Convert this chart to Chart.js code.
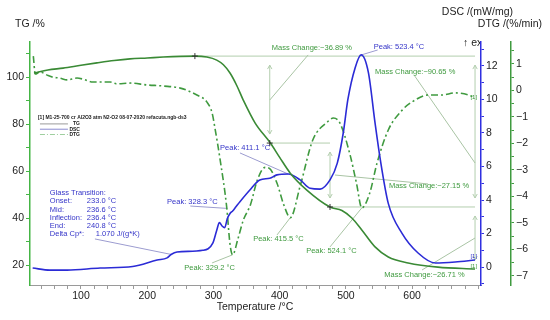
<!DOCTYPE html>
<html>
<head>
<meta charset="utf-8">
<script src="https://cdn.jsdelivr.net/npm/chart.js@4.4.1/dist/chart.umd.min.js"></script>
<style>
  html, body { margin: 0; padding: 0; background: #fff; }
</style>
</head>
<body>
<canvas id="thermoChart" width="550" height="320"></canvas>
<script>
// TG curve, mass in %
const tgTemp = [29, 50, 73, 100, 124, 150, 174, 200, 224, 250, 272, 290, 305, 315, 325, 335, 345, 363, 386, 400, 416, 441, 476, 494, 509, 524, 544, 564, 594, 639, 695];
const tgValues = [101.7, 103.0, 103.8, 105.0, 106.0, 107.0, 107.7, 108.1, 108.5, 108.8, 108.9, 108.5, 107.2, 105.2, 101.7, 96.5, 90.2, 80.4, 71.9, 65.8, 59.1, 51.9, 44.7, 43.2, 40.0, 34.9, 27.7, 23.4, 20.9, 19.1, 18.3];

// DSC curve, mW/mg
const dscTemp = [27, 53, 79, 129, 178, 215, 230, 236, 245, 284, 299, 305, 309, 313, 317, 321, 325, 329, 334, 340, 355, 370, 385, 396, 413, 431, 446, 461, 476, 487, 496, 503, 514, 523, 534, 544, 552, 564, 585, 609, 635, 665, 695];
const dscValues = [-0.06, -0.18, -0.18, -0.06, 0.03, 0.42, 0.55, 0.75, 0.9, 1.0, 1.43, 2.2, 2.65, 2.45, 2.35, 2.9, 3.2, 3.35, 3.6, 3.9, 4.6, 5.2, 5.3, 5.5, 5.55, 5.2, 4.7, 4.65, 5.2, 6.2, 8.0, 10.0, 11.9, 12.66, 11.6, 8.6, 6.4, 3.8, 2.0, 0.84, 0.24, 0.3, 0.42];

// DTG curve, %/min
const dtgTemp = [28, 31, 38, 49, 58, 68, 79, 94, 103, 118, 144, 154, 174, 200, 224, 250, 275, 290, 298, 302, 310, 320, 325, 329, 337, 345, 356, 366, 378, 385, 396, 406, 416, 431, 450, 472, 481, 491, 506, 516, 524, 536, 547, 564, 585, 600, 624, 645, 665, 685, 695];
const dtgValues = [1.3, 0.62, 0.7, 0.58, 0.5, 0.47, 0.4, 0.47, 0.43, 0.32, 0.32, 0.25, 0.28, 0.21, 0.17, 0.09, -0.17, -0.43, -0.85, -1.38, -2.6, -4.4, -5.8, -6.2, -5.6, -4.9, -4.3, -3.4, -2.9, -2.95, -3.5, -4.3, -4.8, -3.6, -1.87, -1.19, -1.04, -1.23, -2.4, -3.5, -4.43, -3.87, -2.74, -1.49, -0.74, -0.43, -0.17, -0.17, -0.09, -0.17, -0.28];

// labelled ticks
const tempTicks = [100, 200, 300, 400, 500, 600];
const tgTicks = [20, 40, 60, 80, 100];
const dscTicks = [0, 2, 4, 6, 8, 10, 12];
const dtgTicks = [1, 0, -1, -2, -3, -4, -5, -6, -7];

// TG step levels used by the mass-change brackets
const massLevels = [108.9, 71.9, 44.7, 18.3];
const glassRows = [['Glass Transition:', ''], ['Onset:', '233.0 °C'], ['Mid:', '236.6 °C'], ['Inflection:', '236.4 °C'], ['End:', '240.8 °C'], ['Delta Cp*:', '1.070 J/(g*K)']];

const GREEN = '#3a8a35';
const DTG_GREEN = '#3f9a3f';
const BLUE = '#2b2bd6';
const NOTE_GREEN = '#3f9a3f';
const NOTE_BLUE = '#3434c8';
const FONT = '"Liberation Sans", Arial, sans-serif';

// text notes, positioned in temperature / TG units
const notes = [
  { text: 'Mass Change:\u221236.89 %', color: NOTE_GREEN, t: 388, v: 112.3 },
  { text: 'Peak: 523.4 °C', color: NOTE_BLUE, t: 542, v: 112.6 },
  { text: 'Mass Change:\u221290.65 %', color: NOTE_GREEN, t: 544, v: 102.1 },
  { text: 'Peak: 411.1 °C', color: NOTE_BLUE, t: 310, v: 69.8 },
  { text: 'Mass Change:\u221227.15 %', color: NOTE_GREEN, t: 565, v: 53.6 },
  { text: 'Peak: 328.3 °C', color: NOTE_BLUE, t: 230, v: 46.8 },
  { text: 'Peak: 415.5 °C', color: NOTE_GREEN, t: 360, v: 31.1 },
  { text: 'Peak: 524.1 °C', color: NOTE_GREEN, t: 440, v: 26.0 },
  { text: 'Peak: 329.2 °C', color: NOTE_GREEN, t: 256, v: 18.7 },
  { text: 'Mass Change:\u221226.71 %', color: NOTE_GREEN, t: 558, v: 15.7 }
];

// leader lines: [t1, v1, axis1, t2, v2, axis2, colour]
const leaders = [
  [523.4, 12.66, 'yDsc', 548, 111.5, 'yTg', '#9c9cd0'],
  [443, 109.4, 'yTg', 385, 90.2, 'yTg', '#a9c4a4'],
  [604, 100.4, 'yTg', 695, 63.4, 'yTg', '#a9c4a4'],
  [340, 67.7, 'yTg', 413, 5.55, 'yDsc', '#9c9cd0'],
  [483.5, 58.3, 'yTg', 624, 54.5, 'yTg', '#a9c4a4'],
  [265, 45.1, 'yTg', 321, 3.5, 'yDsc', '#9c9cd0'],
  [121, 31.1, 'yTg', 236.6, 0.75, 'yDsc', '#9c9cd0'],
  [396, 32.8, 'yTg', 416, -4.8, 'yDtg', '#a9c4a4'],
  [476, 27.7, 'yTg', 524, -4.43, 'yDtg', '#a9c4a4'],
  [298, 20.9, 'yTg', 329, -6.2, 'yDtg', '#a9c4a4'],
  [615, 17.9, 'yTg', 695, 31.5, 'yTg', '#a9c4a4']
];

function toPoints(xs, ys) {
  return xs.map((t, i) => ({ x: t, y: ys[i] }));
}

function keepEvery(step) {
  return scale => {
    scale.ticks = scale.ticks.filter(t => Math.abs(t.value / step - Math.round(t.value / step)) < 1e-6);
  };
}

function arrow(ctx, x, y, dir) {
  // dir -1 points up, 1 points down
  ctx.beginPath();
  ctx.moveTo(x - 2.2, y - dir * 4);
  ctx.lineTo(x, y);
  ctx.lineTo(x + 2.2, y - dir * 4);
  ctx.stroke();
}

const notesPlugin = {
  id: 'thermoNotes',
  beforeDatasetsDraw(chart) {
    const { ctx } = chart;
    const sx = chart.scales.x;
    const tg = chart.scales.yTg;
    const X = t => sx.getPixelForValue(t);
    const Y = v => tg.getPixelForValue(v);
    const [l1, l2, l3, l4] = massLevels.map(Y);

    ctx.save();
    ctx.strokeStyle = '#b3ceae';
    ctx.lineWidth = 1;
    // level lines
    ctx.beginPath();
    ctx.moveTo(X(272), l1); ctx.lineTo(X(695), l1);
    ctx.moveTo(X(385), l2); ctx.lineTo(X(476), l2);
    ctx.moveTo(X(476), l3); ctx.lineTo(X(695), l3);
    ctx.stroke();

    // brackets
    const bracket = (x, ya, yb) => {
      ctx.beginPath();
      ctx.moveTo(x, ya + 9); ctx.lineTo(x, yb - 9);
      ctx.stroke();
      arrow(ctx, x, ya + 9, -1);
      arrow(ctx, x, yb - 9, 1);
    };
    bracket(X(385), l1, l2);
    bracket(X(476), l2, l3);
    bracket(X(695), l1, l3);
    bracket(X(695), l3, l4);

    // leaders
    leaders.forEach(([t1, v1, a1, t2, v2, a2, c]) => {
      ctx.strokeStyle = c;
      ctx.beginPath();
      ctx.moveTo(X(t1), chart.scales[a1].getPixelForValue(v1));
      ctx.lineTo(X(t2), chart.scales[a2].getPixelForValue(v2));
      ctx.stroke();
    });
    ctx.restore();
  },
  afterDatasetsDraw(chart) {
    const { ctx } = chart;
    const sx = chart.scales.x;
    const tg = chart.scales.yTg;
    const X = t => sx.getPixelForValue(t);
    const Y = v => tg.getPixelForValue(v);

    ctx.save();
    // step markers
    ctx.strokeStyle = '#333';
    ctx.lineWidth = 1;
    [[272, massLevels[0]], [385, massLevels[1]], [476, massLevels[2]]].forEach(([t, v]) => {
      const x = X(t), y = Y(v);
      ctx.beginPath();
      ctx.moveTo(x - 3, y); ctx.lineTo(x + 3, y);
      ctx.moveTo(x, y - 3); ctx.lineTo(x, y + 3);
      ctx.stroke();
    });

    ctx.textBaseline = 'middle';
    ctx.textAlign = 'left';
    ctx.font = '7.5px ' + FONT;
    notes.forEach(n => {
      ctx.fillStyle = n.color;
      ctx.fillText(n.text, X(n.t), Y(n.v));
    });

    // glass transition block
    const gx = X(53), gy = Y(50.6);
    ctx.fillStyle = NOTE_BLUE;
    glassRows.forEach(([label, value], i) => {
      ctx.fillText(label, gx, gy + i * 8.2);
      if (value) ctx.fillText(value, gx + (i === 5 ? 46 : 37), gy + i * 8.2);
    });

    // curve tags at the right end
    ctx.font = '6px ' + FONT;
    ctx.fillStyle = NOTE_BLUE;
    ctx.fillText('[1]', X(688), chart.scales.yDsc.getPixelForValue(0.62));
    ctx.fillStyle = NOTE_GREEN;
    ctx.fillText('[1]', X(688), Y(19.3));
    ctx.fillText('[1]', X(688), chart.scales.yDtg.getPixelForValue(-0.25));

    // file legend
    const lx = X(35), ly = Y(82.6);
    ctx.font = 'bold 5px ' + FONT;
    ctx.fillStyle = '#222';
    ctx.fillText('[1] M1-25-700 cr Al2O3 atm N2-O2 08-07-2020 refacuta.ngb-ds3', lx, ly);
    const keys = [['TG', '#9a9a9a', []], ['DSC', '#8c8cd0', []], ['DTG', '#9fcf9f', [5, 2, 1, 2]]];
    keys.forEach(([name, col, dash], i) => {
      const y = ly + 6 + i * 5.3;
      ctx.strokeStyle = col;
      ctx.setLineDash(dash);
      ctx.beginPath();
      ctx.moveTo(lx + 2, y); ctx.lineTo(lx + 30, y);
      ctx.stroke();
      ctx.setLineDash([]);
      ctx.textAlign = 'right';
      ctx.fillText(name, lx + 42, y);
      ctx.textAlign = 'left';
    });
    ctx.restore();
  },
  afterDraw(chart) {
    const { ctx, chartArea } = chart;
    ctx.save();
    ctx.font = '10.5px ' + FONT;
    ctx.fillStyle = '#222';
    ctx.textBaseline = 'middle';
    ctx.textAlign = 'left';
    ctx.fillText('TG /%', 15, 24);
    ctx.textAlign = 'right';
    ctx.fillText('DSC /(mW/mg)', 513, 12);
    ctx.fillText('DTG /(%/min)', 542, 24);
    ctx.textAlign = 'center';
    ctx.fillText('Temperature /°C', 255, 307);
    ctx.beginPath();
    ctx.rect(0, 0, chartArea.right - 1, 320);
    ctx.clip();
    ctx.textAlign = 'left';
    ctx.fillText('\u2191 exo', 463, 43);
    ctx.restore();
  }
};

const tickFont = { family: FONT, size: 10.5 };

new Chart(document.getElementById('thermoChart'), {
  type: 'line',
  data: {
    datasets: [
      {
        label: 'TG',
        data: toPoints(tgTemp, tgValues),
        yAxisID: 'yTg',
        borderColor: GREEN,
        borderWidth: 1.6,
        pointRadius: 0,
        cubicInterpolationMode: 'monotone'
      },
      {
        label: 'DSC',
        data: toPoints(dscTemp, dscValues),
        yAxisID: 'yDsc',
        borderColor: BLUE,
        borderWidth: 1.6,
        pointRadius: 0,
        cubicInterpolationMode: 'monotone'
      },
      {
        label: 'DTG',
        data: toPoints(dtgTemp, dtgValues),
        yAxisID: 'yDtg',
        borderColor: DTG_GREEN,
        borderWidth: 1.6,
        borderDash: [7, 3, 2, 3],
        pointRadius: 0,
        cubicInterpolationMode: 'monotone'
      }
    ]
  },
  options: {
    responsive: false,
    animation: false,
    devicePixelRatio: 1,
    layout: { padding: { top: 42, left: 0, right: 0, bottom: 0 } },
    plugins: {
      legend: { display: false },
      tooltip: { enabled: false }
    },
    scales: {
      x: {
        type: 'linear',
        position: 'bottom',
        min: 23,
        max: 704,
        border: { color: '#9a9a9a', width: 1 },
        grid: { drawOnChartArea: false, drawTicks: true, tickLength: 4, color: '#9a9a9a' },
        ticks: {
          stepSize: 20,
          includeBounds: false,
          autoSkip: false,
          maxRotation: 0,
          padding: 1,
          color: '#222',
          font: tickFont,
          callback: v => tempTicks.includes(v) ? String(v) : ''
        },
        afterBuildTicks: keepEvery(20),
        afterFit: s => { s.height = 35; }
      },
      yTg: {
        position: 'left',
        min: 11.5,
        max: 114.9,
        border: { color: '#45b545', width: 1.5 },
        grid: { drawOnChartArea: false, drawTicks: true, tickLength: 4, color: '#45b545' },
        ticks: {
          stepSize: 10,
          includeBounds: false,
          autoSkip: false,
          padding: 2,
          color: '#222',
          font: tickFont,
          callback: v => tgTicks.includes(v) ? String(v) : ''
        },
        afterBuildTicks: keepEvery(10),
        afterFit: s => { s.width = 30; }
      },
      yDsc: {
        position: 'right',
        weight: 0,
        min: -1.07,
        max: 13.43,
        border: { color: '#2f2fe0', width: 1.5 },
        grid: { drawOnChartArea: false, drawTicks: true, tickLength: 3, color: '#2f2fe0' },
        ticks: {
          stepSize: 1,
          includeBounds: false,
          autoSkip: false,
          padding: 2,
          color: '#222',
          font: tickFont,
          callback: v => dscTicks.includes(v) ? String(v) : ''
        },
        afterBuildTicks: keepEvery(1),
        afterFit: s => { s.width = 30; }
      },
      yDtg: {
        position: 'right',
        weight: 1,
        min: -7.34,
        max: 1.83,
        border: { color: '#3f9a3f', width: 1.5 },
        grid: { drawOnChartArea: false, drawTicks: true, tickLength: 3, color: '#3f9a3f' },
        ticks: {
          stepSize: 0.5,
          includeBounds: false,
          autoSkip: false,
          padding: 2,
          color: '#222',
          font: tickFont,
          callback: v => dtgTicks.includes(v) ? String(v).replace('-', '\u2212') : ''
        },
        afterBuildTicks: keepEvery(0.5),
        afterFit: s => { s.width = 39; }
      }
    }
  },
  plugins: [notesPlugin]
});
</script>
</body>
</html>
